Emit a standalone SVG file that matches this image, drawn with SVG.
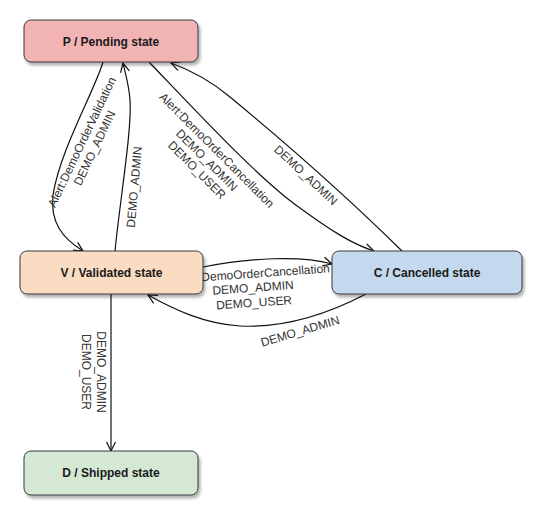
<svg xmlns="http://www.w3.org/2000/svg" width="541" height="515" viewBox="0 0 541 515">
<style>
.node rect{stroke:#36393d;stroke-width:1}
.node text{font-family:"Liberation Sans",Arial,sans-serif;font-size:12px;font-weight:bold;fill:#1a1a1a;text-anchor:middle}
.edge{fill:none;stroke:#111;stroke-width:1.2;marker-end:url(#arr)}
.lbl{font-family:"Liberation Sans",Arial,sans-serif;font-size:12px;fill:#333;text-anchor:middle}
</style>
<defs>
<marker id="arr" markerUnits="userSpaceOnUse" markerWidth="14" markerHeight="14" refX="10" refY="5" orient="auto" viewBox="0 0 14 10">
<path d="M1,0.5 L10,5 L1,9.5" fill="none" stroke="#111" stroke-width="1.2"/>
</marker>
<filter id="sh" x="-10%" y="-20%" width="130%" height="160%">
<feDropShadow dx="2" dy="3" stdDeviation="1.5" flood-color="#000" flood-opacity="0.3"/>
</filter>
</defs>
<rect width="541" height="515" fill="#fff"/>
<g id="connectors">
<path class="edge" d="M103,62 C 95,90 60,150 53,195 C 50,222 62,238 83,251"/>
<path class="edge" d="M115,251 C 120,200 132,130 130,100 C 129,85 125,72 123,63"/>
<path class="edge" d="M149,62 C 200,115 260,180 300,208 C 330,230 352,244 374,251"/>
<path class="edge" d="M402,251 C 340,190 270,130 230,97 C 210,80 190,70 171,63"/>
<path class="edge" d="M203,267 C 250,258 300,255 332,264"/>
<path class="edge" d="M366,294 C 320,318 280,328 240,326 C 205,324 175,310 148,295"/>
<path class="edge" d="M111,294 L111,451"/>
<g transform="translate(88,145) rotate(-64.5)">
<text class="lbl" x="0" y="-2.7">Alert:DemoOrderValidation</text>
<text class="lbl" x="0" y="11.3">DEMO_ADMIN</text>
</g>
<text class="lbl" transform="translate(134,187) rotate(-85)" x="0" y="4.3">DEMO_ADMIN</text>
<g transform="translate(207,160) rotate(45)">
<text class="lbl" x="0" y="-9.7">Alert:DemoOrderCancellation</text>
<text class="lbl" x="0" y="4.3">DEMO_ADMIN</text>
<text class="lbl" x="0" y="18.3">DEMO_USER</text>
</g>
<text class="lbl" transform="translate(306,175) rotate(43)" x="0" y="4.3">DEMO_ADMIN</text>
<text class="lbl" transform="translate(265.5,272.5) rotate(-4)" x="0" y="4.3">DemoOrderCancellation</text>
<g transform="translate(253,287.5) rotate(-4)">
<text class="lbl" x="0" y="4.3">DEMO_ADMIN</text>
<text class="lbl" x="0" y="19.3">DEMO_USER</text>
</g>
<text class="lbl" transform="translate(300,331) rotate(-16.5)" x="0" y="4.3">DEMO_ADMIN</text>
<g transform="translate(94.5,372) rotate(90)">
<text class="lbl" x="0" y="-2.7">DEMO_ADMIN</text>
<text class="lbl" x="0" y="12.3">DEMO_USER</text>
</g>
</g>
<g id="P" class="node">
<rect x="24" y="20" width="174" height="42" rx="7" fill="#f2b3b5" filter="url(#sh)"/>
<text x="111" y="45.5">P / Pending state</text>
</g>
<g id="V" class="node">
<rect x="20" y="251" width="183" height="43" rx="7" fill="#f9dcc1" filter="url(#sh)"/>
<text x="111.5" y="276.5">V / Validated state</text>
</g>
<g id="C" class="node">
<rect x="332" y="251" width="190" height="43" rx="7" fill="#c4d9ee" filter="url(#sh)"/>
<text x="427" y="276.5">C / Cancelled state</text>
</g>
<g id="D" class="node">
<rect x="24" y="451" width="174" height="44" rx="7" fill="#d5e8d4" filter="url(#sh)"/>
<text x="111" y="477">D / Shipped state</text>
</g>
</svg>
